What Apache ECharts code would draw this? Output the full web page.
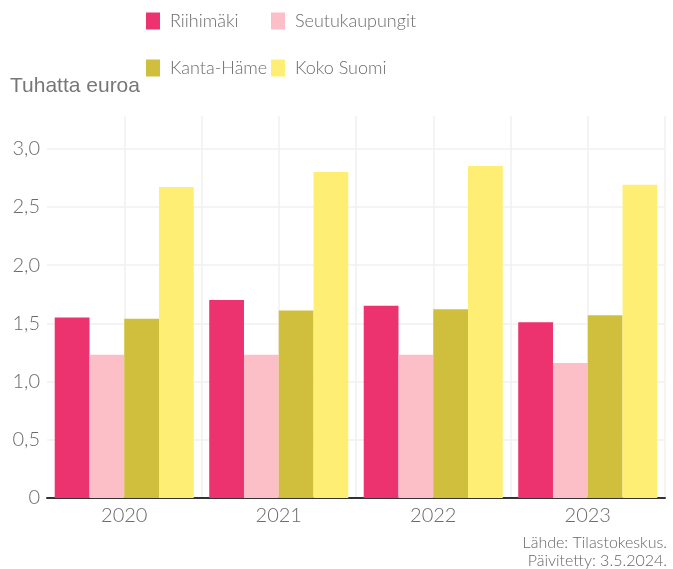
<!DOCTYPE html>
<html>
<head>
<meta charset="utf-8">
<script src="https://cdn.jsdelivr.net/npm/echarts@6/dist/echarts.min.js"></script>
<style>html,body{margin:0;padding:0;background:#fff}#c{width:673px;height:569px}</style>
</head>
<body>
<div id="c"></div>
<script>
var years = ['2020', '2021', '2022', '2023'];
var riihimaki = [1.55, 1.70, 1.65, 1.51];
var seutukaupungit = [1.23, 1.23, 1.23, 1.16];
var kantaHame = [1.54, 1.61, 1.62, 1.57];
var kokoSuomi = [2.67, 2.80, 2.85, 2.69];
var seriesNames = ['Riihimäki', 'Seutukaupungit', 'Kanta-Häme', 'Koko Suomi'];
var colors = ['#ec3370', '#fdbfc7', '#d0bf3c', '#feee74'];
var yTicks = [0, 0.5, 1, 1.5, 2, 2.5, 3];

var chart = echarts.init(document.getElementById('c'), null, {renderer: 'canvas'});
var font = 'Lato';
function legendAt(name, left, top) {
  return {
    data: [name], left: left, top: top, padding: 0, icon: 'rect', itemWidth: 14, itemHeight: 17,
    selectedMode: false,
    textStyle: {fontFamily: font, fontSize: 18, fontWeight: 300, color: '#6b6b6b', padding: [0, 0, 0, 5]}
  };
}
var dataArr = [riihimaki, seutukaupungit, kantaHame, kokoSuomi];
var srcStyle = {fontFamily: font, fontSize: 16, fontWeight: 300, fill: '#666'};
chart.setOption({
  animation: false,
  color: colors,
  title: [{
    text: 'Tuhatta euroa', left: 10, top: 76, padding: 0,
    textStyle: {fontFamily: 'Liberation Sans', fontSize: 21, fontWeight: 'normal', color: '#777'}
  }],
  graphic: [{
    type: 'text', right: 6, top: 535,
    style: Object.assign({text: 'Lähde: Tilastokeskus.'}, srcStyle)
  }, {
    type: 'text', right: 6, top: 553,
    style: Object.assign({text: 'Päivitetty: 3.5.2024.'}, srcStyle)
  }],
  legend: [
    legendAt(seriesNames[0], 146, 12),
    legendAt(seriesNames[1], 271, 12),
    legendAt(seriesNames[2], 146, 59),
    legendAt(seriesNames[3], 271, 59)
  ],
  grid: {left: 47, right: 8, top: 116, bottom: 71, containLabel: false},
  xAxis: [{
    type: 'category', data: years,
    axisLine: {lineStyle: {color: '#333', width: 2}},
    axisTick: {show: false},
    axisLabel: {fontFamily: font, fontSize: 20, fontWeight: 300, color: '#6b6b6b', margin: 8},
    splitLine: {show: false}
  }, {
    type: 'value', min: 0, max: 8, interval: 1, show: true, position: 'bottom',
    axisLine: {show: false}, axisTick: {show: false}, axisLabel: {show: false},
    splitLine: {show: true, showMinLine: false, showMaxLine: true, lineStyle: {color: '#f1f1f1', width: 1.5}}
  }],
  yAxis: {
    type: 'value', min: 0, max: 3.28, interval: 0.5,
    axisLine: {show: false}, axisTick: {show: false},
    axisLabel: {
      fontFamily: font, fontSize: 20, fontWeight: 300, color: '#6b6b6b', margin: 7,
      showMaxLabel: false,
      formatter: function (v) { return yTicks.indexOf(v) >= 0 ? String(v === 0 ? 0 : v.toFixed(1)).replace('.', ',') : ''; }
    },
    splitLine: {show: true, showMaxLine: false, lineStyle: {color: '#f1f1f1', width: 1.5}}
  },
  series: seriesNames.map(function (n, i) {
    return {
      name: n, type: 'bar', xAxisIndex: 0, data: dataArr[i],
      barGap: '0%', barCategoryGap: '10%',
      itemStyle: {color: colors[i]}
    };
  })
});
</script>
</body>
</html>
